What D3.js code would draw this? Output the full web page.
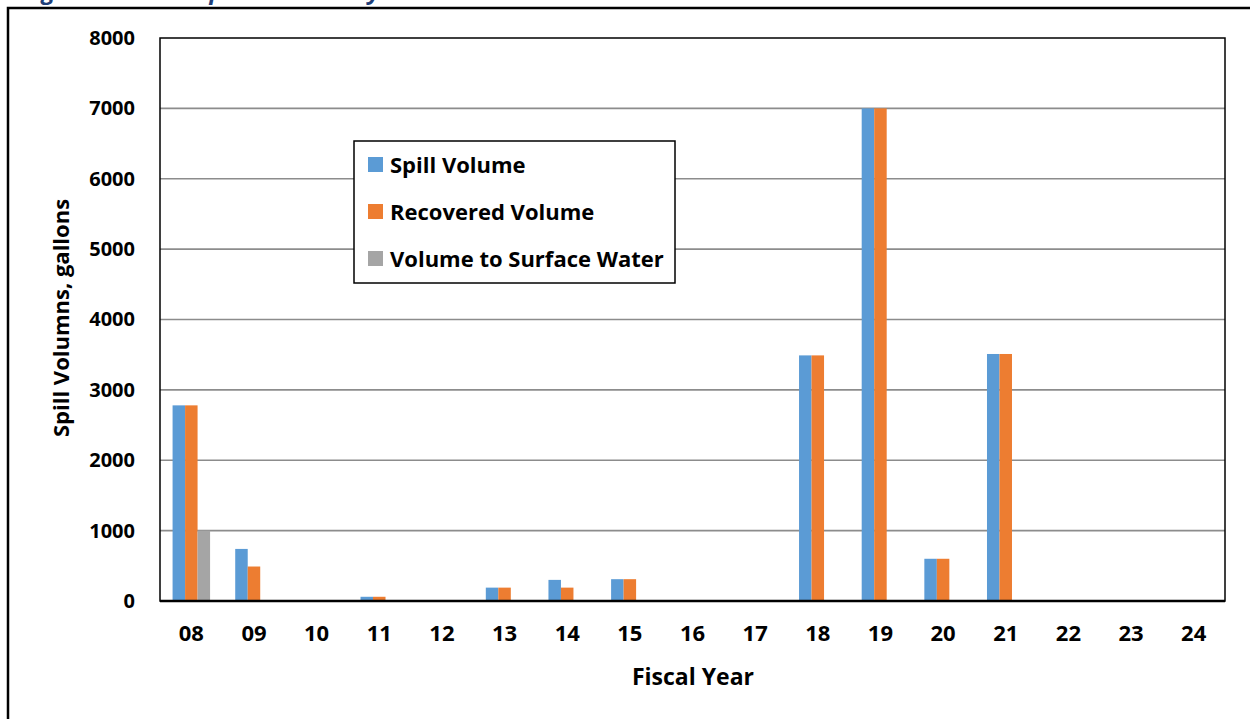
<!DOCTYPE html>
<html>
<head>
<meta charset="utf-8">
<script src="https://cdn.jsdelivr.net/npm/d3@7"></script>
<style>
  body { margin: 0; background: #fff; }
  svg text { font-family: "Open Sans", "Noto Sans", sans-serif; font-weight: bold; fill: #000; }
</style>
</head>
<body>
<svg id="chart" width="1250" height="719"></svg>
<script>

// chart data
var years = ["08", "09", "10", "11", "12", "13", "14", "15", "16", "17", "18", "19", "20", "21", "22", "23", "24"]
var spill_volume = [2780, 740, 0, 60, 0, 190, 300, 310, 0, 0, 3490, 7000, 600, 3510, 0, 0, 0]
var recovered_volume = [2780, 490, 0, 60, 0, 190, 190, 310, 0, 0, 3490, 7000, 600, 3510, 0, 0, 0]
var surface_volume = [1000, 0, 0, 0, 0, 0, 0, 0, 0, 0, 0, 0, 0, 0, 0, 0, 0]
var series_names = ["Spill Volume", "Recovered Volume", "Volume to Surface Water"]
var y_ticks = [0, 1000, 2000, 3000, 4000, 5000, 6000, 7000, 8000]

var colors = ["#5b9bd5", "#ed7d31", "#a5a5a5"]
var series = [spill_volume, recovered_volume, surface_volume]


function draw_chart(){

  var svg = d3.select("#chart")

  // outer frame of the figure
  svg.append("path")
    .attr("d", "M8,720 L8,8 L1252,8")
    .attr("fill", "none")
    .attr("stroke", "#000")
    .attr("stroke-width", 2.5)

  // caption, cut off at the top of the picture
  svg.append("text")
    .attr("x", 22)
    .attr("y", -1)
    .style("font-style", "italic")
    .style("font-size", "24px")
    .style("fill", "#1f3f79")
    .text("Figure 3 - Total Spill Volumes by Fiscal Year")

  var plot_left = 160, plot_right = 1225, plot_top = 38, plot_bottom = 601

  var x = d3.scaleBand()
    .domain(years)
    .range([plot_left, plot_right])

  var group_width = 37.5
  var x_inner = d3.scaleBand()
    .domain([0, 1, 2])
    .range([-group_width / 2, group_width / 2])

  var y = d3.scaleLinear()
    .domain([0, 8000])
    .range([plot_bottom, plot_top])

  // gridlines
  svg.append("g")
    .selectAll("line")
    .data(y_ticks.filter(function(d){ return d > 0 && d < 8000 }))
    .enter().append("line")
      .attr("x1", plot_left)
      .attr("x2", plot_right)
      .attr("y1", function(d){ return y(d) })
      .attr("y2", function(d){ return y(d) })
      .attr("stroke", "#8c8c8c")
      .attr("stroke-width", 1.6)

  // plot border
  svg.append("rect")
    .attr("x", plot_left)
    .attr("y", plot_top)
    .attr("width", plot_right - plot_left)
    .attr("height", plot_bottom - plot_top)
    .attr("fill", "none")
    .attr("stroke", "#000")
    .attr("stroke-width", 1.5)

  // bars
  series.forEach(function(values, i){
    svg.append("g")
      .selectAll("rect")
      .data(values)
      .enter().append("rect")
        .attr("x", function(d, j){ return x(years[j]) + x.bandwidth() / 2 + x_inner(i) })
        .attr("width", x_inner.bandwidth())
        .attr("y", function(d){ return y(d) })
        .attr("height", function(d){ return plot_bottom - y(d) })
        .attr("fill", colors[i])
  })

  // bottom axis line
  svg.append("line")
    .attr("x1", plot_left)
    .attr("x2", plot_right)
    .attr("y1", plot_bottom)
    .attr("y2", plot_bottom)
    .attr("stroke", "#000")
    .attr("stroke-width", 2.5)

  // y axis, plain numbers without separators
  var y_axis = svg.append("g")
    .attr("transform", "translate(" + plot_left + ",0)")
    .call(d3.axisLeft(y).tickValues(y_ticks).tickFormat(d3.format("d")).tickSize(0).tickPadding(25))
  y_axis.select(".domain").remove()
  y_axis.selectAll("text")
    .style("font-size", "20px")
    .style("font-family", "\"Open Sans\", sans-serif")

  // x axis
  var x_axis = svg.append("g")
    .attr("transform", "translate(0," + plot_bottom + ")")
    .call(d3.axisBottom(x).tickSize(0).tickPadding(24))
  x_axis.select(".domain").remove()
  x_axis.selectAll("text")
    .style("font-size", "22px")
    .style("font-family", "\"Open Sans\", sans-serif")

  // axis titles
  svg.append("text")
    .attr("transform", "translate(69,318) rotate(-90)")
    .attr("text-anchor", "middle")
    .style("font-size", "22px")
    .text("Spill Volumns, gallons")

  svg.append("text")
    .attr("x", 693)
    .attr("y", 685)
    .attr("text-anchor", "middle")
    .style("font-size", "23px")
    .text("Fiscal Year")

  // legend
  var legend = svg.append("g")
    .attr("transform", "translate(354,141)")

  legend.append("rect")
    .attr("width", 321)
    .attr("height", 142)
    .attr("fill", "#fff")
    .attr("stroke", "#000")
    .attr("stroke-width", 1.5)

  var legend_items = legend.selectAll(".legend-item")
    .data(series_names)
    .enter().append("g")
      .attr("class", "legend-item")
      .attr("transform", function(d, i){ return "translate(14," + (24 + i * 47) + ")" })

  legend_items.append("rect")
    .attr("y", -8)
    .attr("width", 15)
    .attr("height", 15)
    .attr("fill", function(d, i){ return colors[i] })

  legend_items.append("text")
    .attr("x", 22)
    .attr("y", 8)
    .style("font-size", "22px")
    .text(function(d){ return d })
}

draw_chart()

</script>
</body>
</html>
